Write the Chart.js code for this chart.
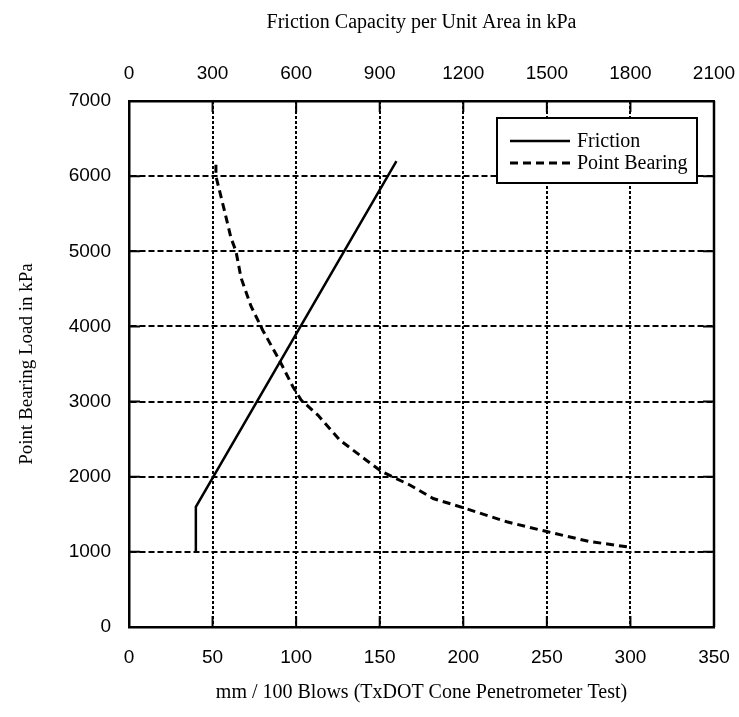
<!DOCTYPE html>
<html>
<head>
<meta charset="utf-8">
<script src="https://cdn.jsdelivr.net/npm/chart.js@4/dist/chart.umd.min.js"></script>
<style>
  html, body { margin: 0; padding: 0; background: #fff; }
  #wrap { width: 739px; height: 717px; }
</style>
</head>
<body>
<div id="wrap"><canvas id="c" width="739" height="717"></canvas></div>
<script>
// Point bearing load vs. penetration rate (mm / 100 blows)
const pbBlows = [52, 52, 57, 61, 64, 67, 73, 80, 90, 98, 103, 113, 126, 142, 151, 168, 182, 201, 226, 250, 275, 300];
const pbLoad  = [6150, 6000, 5550, 5180, 5000, 4650, 4270, 3950, 3550, 3200, 3020, 2820, 2490, 2220, 2070, 1890, 1710, 1580, 1400, 1270, 1140, 1060];

// Friction capacity per unit area (kPa, top axis) vs. load
const frictionKPa  = [240, 240, 960];
const frictionLoad = [1000, 1600, 6200];

// Axis tick settings
const blowsTicks = [0, 50, 100, 150, 200, 250, 300, 350];
const kpaTicks   = [0, 300, 600, 900, 1200, 1500, 1800, 2100];
const loadTicks  = [0, 1000, 2000, 3000, 4000, 5000, 6000, 7000];

const seriesNames = ['Friction', 'Point Bearing'];

const sans  = "'Liberation Sans', Arial, Helvetica, sans-serif";
const serif = "'Liberation Serif', 'Times New Roman', Times, serif";

const toPoints = (xs, ys) => xs.map((x, i) => ({ x: x, y: ys[i] }));
const plainLabel = v => String(v);

// Frame on the right side plus short inward tick marks on all four sides
const framePlugin = {
  id: 'frame',
  afterDraw(chart) {
    const { ctx, chartArea: a, scales } = chart;
    const len = 11;
    ctx.save();
    ctx.strokeStyle = '#000';
    ctx.lineWidth = 2.5;
    ctx.beginPath();
    ctx.moveTo(a.right, a.top);
    ctx.lineTo(a.right, a.bottom);
    ctx.stroke();
    ctx.lineWidth = 2;
    ctx.beginPath();
    loadTicks.forEach(v => {
      const y = scales.y.getPixelForValue(v);
      ctx.moveTo(a.left, y); ctx.lineTo(a.left + len, y);
      ctx.moveTo(a.right, y); ctx.lineTo(a.right - len, y);
    });
    blowsTicks.forEach(v => {
      const x = scales.x.getPixelForValue(v);
      ctx.moveTo(x, a.bottom); ctx.lineTo(x, a.bottom - len);
    });
    kpaTicks.forEach(v => {
      const x = scales.x2.getPixelForValue(v);
      ctx.moveTo(x, a.top); ctx.lineTo(x, a.top + len);
    });
    ctx.stroke();
    ctx.restore();
  }
};

// Boxed legend inside the plot area
const boxLegendPlugin = {
  id: 'boxLegend',
  afterDatasetsDraw(chart) {
    const { ctx } = chart;
    const bx = 497, by = 118, bw = 200, bh = 65;
    ctx.save();
    ctx.fillStyle = '#fff';
    ctx.fillRect(bx, by, bw, bh);
    ctx.strokeStyle = '#000';
    ctx.lineWidth = 2;
    ctx.strokeRect(bx, by, bw, bh);
    ctx.font = '20px ' + serif;
    ctx.textBaseline = 'middle';
    ctx.textAlign = 'left';
    chart.data.datasets.forEach((ds, i) => {
      const y = by + 23 + i * 22;
      ctx.strokeStyle = ds.borderColor;
      ctx.lineWidth = ds.borderWidth;
      ctx.setLineDash(ds.borderDash || []);
      ctx.beginPath();
      ctx.moveTo(bx + 13, y);
      ctx.lineTo(bx + 73, y);
      ctx.stroke();
      ctx.setLineDash([]);
      ctx.fillStyle = '#000';
      ctx.fillText(ds.label, bx + 80, y + 1);
    });
    ctx.restore();
  }
};

new Chart(document.getElementById('c'), {
  type: 'line',
  data: {
    datasets: [
      {
        label: seriesNames[0],
        data: toPoints(frictionKPa, frictionLoad),
        xAxisID: 'x2',
        yAxisID: 'y',
        borderColor: '#000',
        borderWidth: 2.5,
        pointRadius: 0,
        tension: 0,
        fill: false
      },
      {
        label: seriesNames[1],
        data: toPoints(pbBlows, pbLoad),
        xAxisID: 'x',
        yAxisID: 'y',
        borderColor: '#000',
        borderWidth: 3,
        borderDash: [8, 5],
        pointRadius: 0,
        tension: 0,
        fill: false
      }
    ]
  },
  options: {
    responsive: false,
    animation: false,
    layout: { padding: { top: 0, left: 0, bottom: 0, right: 25 } },
    plugins: { legend: { display: false }, tooltip: { enabled: false } },
    scales: {
      x: {
        type: 'linear',
        position: 'bottom',
        min: blowsTicks[0],
        max: blowsTicks[blowsTicks.length - 1],
        afterBuildTicks: s => { s.ticks = blowsTicks.map(v => ({ value: v })); },
        afterFit: s => { s.height = 90; s.paddingLeft = 0; s.paddingRight = 0; },
        ticks: { color: '#000', font: { family: sans, size: 19 }, padding: 19, maxRotation: 0, callback: plainLabel },
        grid: { color: '#000', lineWidth: 2, drawTicks: false },
        border: { display: true, color: '#000', width: 2.5, dash: [3, 2] },
        title: {
          display: true,
          text: 'mm / 100 Blows (TxDOT Cone Penetrometer Test)',
          color: '#000',
          font: { family: serif, size: 20 },
          padding: { top: 0, bottom: 12 }
        }
      },
      x2: {
        type: 'linear',
        position: 'top',
        min: kpaTicks[0],
        max: kpaTicks[kpaTicks.length - 1],
        afterBuildTicks: s => { s.ticks = kpaTicks.map(v => ({ value: v })); },
        afterFit: s => { s.height = 101; s.paddingLeft = 0; s.paddingRight = 0; },
        ticks: { color: '#000', font: { family: sans, size: 19 }, padding: 16, maxRotation: 0, callback: plainLabel },
        grid: { drawOnChartArea: false, drawTicks: false },
        border: { display: true, color: '#000', width: 2.5 },
        title: {
          display: true,
          text: 'Friction Capacity per Unit Area in kPa',
          color: '#000',
          font: { family: serif, size: 20 },
          padding: { top: 11, bottom: 0 }
        }
      },
      y: {
        type: 'linear',
        position: 'left',
        min: loadTicks[0],
        max: loadTicks[loadTicks.length - 1],
        afterBuildTicks: s => { s.ticks = loadTicks.map(v => ({ value: v })); },
        afterFit: s => { s.width = 129; s.paddingTop = 0; s.paddingBottom = 0; },
        ticks: { color: '#000', font: { family: sans, size: 19 }, padding: 18, callback: plainLabel },
        grid: { color: '#000', lineWidth: 2, drawTicks: false },
        border: { display: true, color: '#000', width: 2.5, dash: [6, 3] },
        title: {
          display: true,
          text: 'Point Bearing Load in kPa',
          color: '#000',
          font: { family: serif, size: 19 },
          padding: { top: 16, bottom: 0 }
        }
      }
    }
  },
  plugins: [boxLegendPlugin, framePlugin]
});
</script>
</body>
</html>
